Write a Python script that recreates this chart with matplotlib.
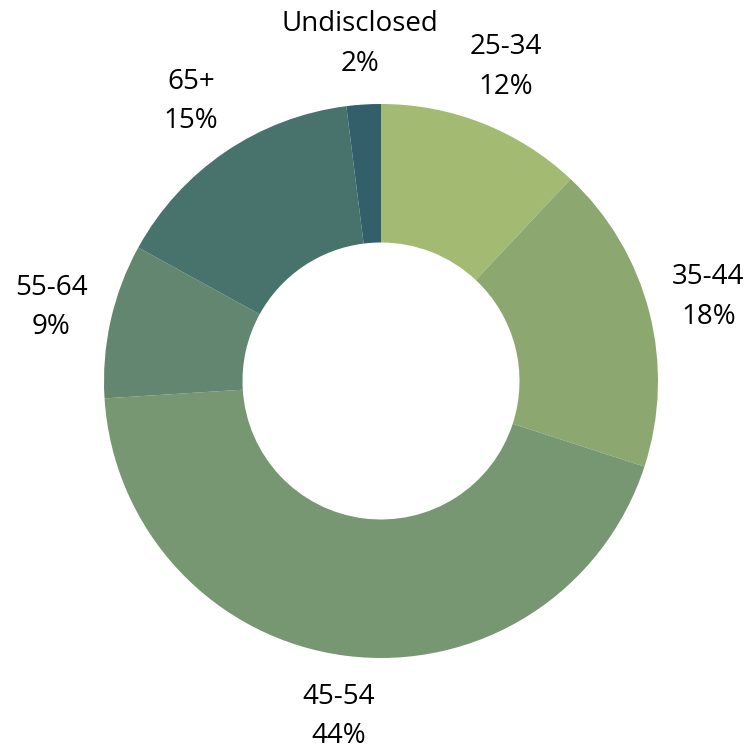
import matplotlib
matplotlib.use("Agg")
import matplotlib.pyplot as plt

# age groups of respondents
age_groups = ["25-34", "35-44", "45-54", "55-64", "65+", "Undisclosed"]
shares = [12, 18, 44, 9, 15, 2]
colors = ["#a2ba72", "#8ca870", "#779772", "#628670", "#48736d", "#335f6b"]

plt.rcParams["font.family"] = ["Open Sans", "DejaVu Sans"]

fig = plt.figure(figsize=(7.5, 7.49), dpi=100)
ax = fig.add_axes([0, 0, 1, 1])

labels = [f"{g}\n{s}%" for g, s in zip(age_groups, shares)]
wedges, texts = ax.pie(
    shares,
    labels=labels,
    colors=colors,
    startangle=90,
    counterclock=False,
    radius=1,
    labeldistance=1.22,
    wedgeprops=dict(width=0.5, linewidth=0),
    textprops=dict(fontsize=20, color="black", ha="center", va="center", linespacing=1.55),
)
for t in texts:
    t.set_horizontalalignment("center")

ax.set_xlim(-381 / 277, 369 / 277)
ax.set_ylim(-368 / 277, 381 / 277)
ax.set_aspect("auto")
ax.axis("off")

fig.savefig("out.png", dpi=100)
